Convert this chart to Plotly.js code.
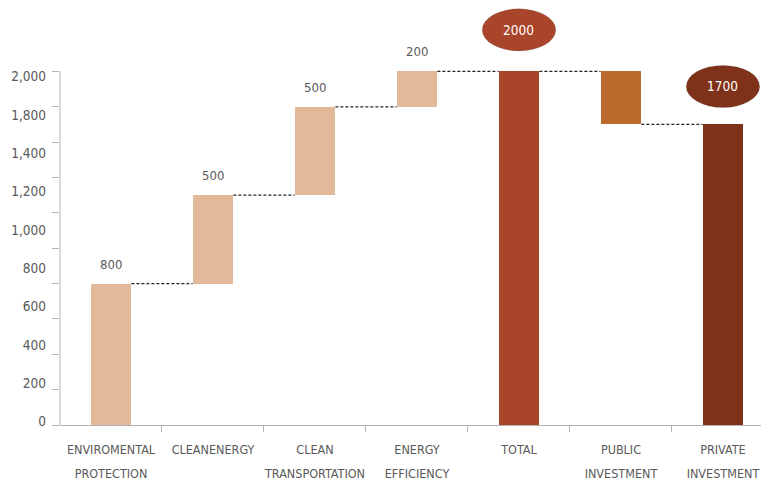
<!DOCTYPE html>
<html>
<head>
<meta charset="utf-8">
<script src="https://cdn.plot.ly/plotly-3.0.1.min.js"></script>
<style>html,body{margin:0;padding:0;background:#fff}#chart{width:761px;height:481px}</style>
</head>
<body>
<div id="chart"></div>
<script>
// ---- data ----
const categories = ['ENVIROMENTAL PROTECTION', 'CLEANENERGY', 'CLEAN TRANSPORTATION', 'ENERGY EFFICIENCY', 'TOTAL', 'PUBLIC INVESTMENT', 'PRIVATE INVESTMENT'];
const labelLine1 = ['ENVIROMENTAL', 'CLEANENERGY', 'CLEAN', 'ENERGY', 'TOTAL', 'PUBLIC', 'PRIVATE'];
const labelLine2 = ['PROTECTION', '', 'TRANSPORTATION', 'EFFICIENCY', '', 'INVESTMENT', 'INVESTMENT'];
const values = [800, 500, 500, 200, 2000, -300, 1700];
const measures = ['relative', 'relative', 'relative', 'relative', 'total', 'relative', 'total'];
const barColors = ['#E3B99C', '#E3B99C', '#E3B99C', '#E3B99C', '#A9452A', '#BD6A2E', '#7F3219'];
const yTickValues = [0, 200, 400, 600, 800, 1000, 1200, 1400, 1600, 1800, 2000];
const yTickLabels = ['0', '200', '400', '600', '800', '1,000', '1,200', '1,400', '1,800', '2,000'];

// ---- build ----
const FONT = "'DejaVu Sans Condensed', 'Liberation Sans Narrow', sans-serif";
const TXT = '#595959';
const idx = categories.map((_, i) => i);
const bases = [], ends = [];
let running = 0;
values.forEach((v, i) => {
  if (measures[i] === 'total') { bases.push(0); running = v; }
  else { bases.push(running); running += v; }
  ends.push(running);
});
const barW = 0.4;
const traces = [{
  type: 'bar', x: idx, y: values, base: bases,
  width: barW, marker: {color: barColors}, hoverinfo: 'skip', xaxis: 'x', yaxis: 'y'
}];
// connectors
for (let i = 0; i < categories.length - 1; i++) {
  traces.push({
    type: 'scatter', mode: 'lines', x: [i + barW / 2, i + 1 - barW / 2], y: [ends[i], ends[i]],
    line: {color: '#222', width: 1.2, dash: '3px,2px'}, hoverinfo: 'skip', showlegend: false
  });
}
// helper traces for label axes
traces.push({type: 'scatter', mode: 'markers', x: idx, y: idx.map(() => null), xaxis: 'x2', yaxis: 'y2', hoverinfo: 'skip', showlegend: false});
traces.push({type: 'scatter', mode: 'markers', x: idx, y: idx.map(() => null), xaxis: 'x3', yaxis: 'y', hoverinfo: 'skip', showlegend: false});

const yMax = 2404;
const xRange = [-0.5, 6.373];
const annotations = [];
const shapes = [];
// value labels for relative bars (first four)
for (let i = 0; i < 4; i++) {
  annotations.push({x: i, y: ends[i], xref: 'x', yref: 'y', text: String(values[i]), showarrow: false,
    yanchor: 'bottom', yshift: 10, font: {family: FONT, size: 13, color: TXT}});
}
// ellipse labels for totals
const ellipses = [{i: 4, cy: 2235}, {i: 6, cy: 1915}];
ellipses.forEach(e => {
  shapes.push({type: 'circle', xref: 'x', yref: 'y', x0: e.i - 0.36, x1: e.i + 0.36, y0: e.cy - 119, y1: e.cy + 119,
    fillcolor: barColors[e.i], line: {color: 'rgba(0,0,0,0.12)', width: 1}, layer: 'above'});
  annotations.push({x: e.i, y: e.cy, xref: 'x', yref: 'y', text: String(values[e.i]), showarrow: false,
    font: {family: FONT, size: 13.5, color: '#fff'}});
});
// y axis line (only to 2000)
shapes.push({type: 'line', xref: 'paper', yref: 'y', x0: 0, x1: 0, y0: 0, y1: 2000, line: {color: '#b3b3b3', width: 1}});

// label slots as printed in the source (evenly spread, slightly off the ticks)
const labelLow = 19, labelHigh = 1970;
const yLabelPos = yTickLabels.map((_, k) => labelLow + k * (labelHigh - labelLow) / (yTickLabels.length - 1));

const layout = {
  width: 761, height: 481, margin: {l: 60, r: 0, t: 0, b: 56},
  paper_bgcolor: '#fff', plot_bgcolor: '#fff', showlegend: false, bargap: 0,
  font: {family: FONT, color: TXT},
  xaxis: {range: xRange, tickmode: 'array', tickvals: idx.slice(0, -1).map(i => i + 0.5), showticklabels: false,
    ticks: 'outside', ticklen: 6, tickcolor: '#b3b3b3', showline: true, linecolor: '#b3b3b3', showgrid: false, zeroline: false, fixedrange: true},
  xaxis2: {overlaying: 'x', anchor: 'y', side: 'bottom', range: xRange, tickmode: 'array', tickvals: idx, ticktext: labelLine1,
    ticks: '', showline: false, showgrid: false, zeroline: false, ticklabelstandoff: 15, ticklabeloverflow: 'allow',
    tickfont: {family: FONT, size: 12.5, color: TXT}},
  xaxis3: {overlaying: 'x', anchor: 'y', side: 'bottom', range: xRange, tickmode: 'array', tickvals: idx, ticktext: labelLine2,
    ticks: '', showline: false, showgrid: false, zeroline: false, ticklabelstandoff: 39, ticklabeloverflow: 'allow',
    tickfont: {family: FONT, size: 12.5, color: TXT}},
  yaxis: {range: [0, yMax], tickmode: 'array', tickvals: yTickValues, showticklabels: false, ticks: 'outside', ticklen: 7,
    tickcolor: '#b3b3b3', showline: false, showgrid: false, zeroline: false, fixedrange: true},
  yaxis2: {overlaying: 'y', anchor: 'x', side: 'left', range: [0, yMax], tickmode: 'array',
    tickvals: yLabelPos, ticktext: yTickLabels,
    ticks: '', showline: false, showgrid: false, zeroline: false, ticklabelstandoff: 13, ticklabeloverflow: 'allow',
    tickfont: {family: FONT, size: 13.5, color: TXT}},
  shapes: shapes, annotations: annotations
};
Plotly.newPlot('chart', traces, layout, {displayModeBar: false, staticPlot: true});
</script>
</body>
</html>
